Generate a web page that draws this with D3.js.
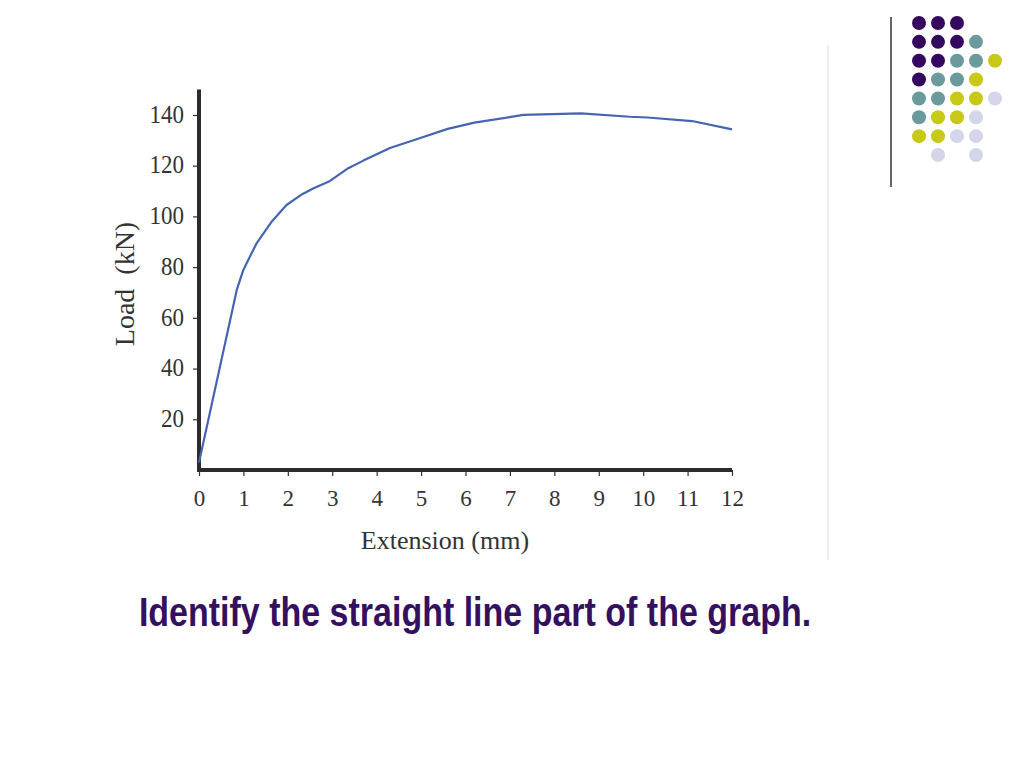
<!DOCTYPE html>
<html><head><meta charset="utf-8">
<script src="https://cdn.jsdelivr.net/npm/d3@7"></script>
<style>html,body{margin:0;padding:0;background:#fff;}svg{display:block;}</style>
</head><body>
<svg id="c" width="1024" height="768"></svg>
<script>
// Data
const extension = [0, 0.85, 1.0, 1.3, 1.64, 1.97, 2.3, 2.57, 2.95, 3.36, 3.7, 4.3, 5, 5.6, 6.2, 7.3, 8.6, 9.7, 10.1, 11.1, 12];
const load      = [3, 71, 79, 89.5, 98, 104.5, 108.5, 111, 114, 119, 122, 127, 131, 134.5, 137, 140, 140.6, 139.3, 139, 137.6, 134.3];
const xTicks = [0,1,2,3,4,5,6,7,8,9,10,11,12];
const yTicks = [20,40,60,80,100,120,140];
const xTitle = "Extension (mm)";
const yTitle = "Load  (kN)";
const caption = "Identify the straight line part of the graph.";
// decorative dot grid of the slide template (rows top to bottom, 5 columns)
const dotRows = [
  "PPP..",
  "PPPT.",
  "PPTTY",
  "PTTY.",
  "TTYYL",
  "TYYL.",
  "YYLL.",
  ".L.L."
];
const dotColors = {P:"#34085f", T:"#6a9a9c", Y:"#c8c816", L:"#d4d4ea"};

const svg = d3.select("#c");
const x = d3.scaleLinear().domain([0,12]).range([199,732]);
const y = d3.scaleLinear().domain([0,150]).range([470,89.6]);

const serif = "'Liberation Serif','DejaVu Serif',serif";
const axisColor = "#333";

// faint page border line (scan)
svg.append("line").attr("x1",828).attr("x2",828).attr("y1",45).attr("y2",560)
  .attr("stroke","#e6e6e6").attr("stroke-width",1.5);

// Y axis
const ya = svg.append("g").attr("transform",`translate(${x(0)},0)`)
  .call(d3.axisLeft(y).tickValues(yTicks).tickSize(6).tickPadding(9).tickSizeOuter(0));
ya.select(".domain").remove();
ya.selectAll(".tick line").attr("stroke",axisColor).attr("stroke-width",1.2);
ya.selectAll(".tick text").attr("font-family",serif).attr("font-size",23).attr("fill",axisColor)
  .attr("transform","scale(1,1.12)").attr("dy","0.28em");

// X axis
const xa = svg.append("g").attr("transform",`translate(0,${y(0)})`)
  .call(d3.axisBottom(x).tickValues(xTicks).tickSize(6).tickPadding(14).tickSizeOuter(0));
xa.select(".domain").remove();
xa.selectAll(".tick line").attr("stroke",axisColor).attr("stroke-width",1.2);
xa.selectAll(".tick text").attr("font-family",serif).attr("font-size",23).attr("fill",axisColor);

// thick axis lines
svg.append("line").attr("x1",x(0)).attr("x2",x(0)).attr("y1",y(150)).attr("y2",y(0)+2)
  .attr("stroke","#2b2b2b").attr("stroke-width",4);
svg.append("line").attr("x1",x(0)-2).attr("x2",x(12)).attr("y1",y(0)).attr("y2",y(0))
  .attr("stroke","#2b2b2b").attr("stroke-width",4);

// curve
const pts = extension.map((e,i)=>[e,load[i]]);
svg.append("path").datum(pts)
  .attr("fill","none").attr("stroke","#4565b0").attr("stroke-width",2.2)
  .attr("stroke-linejoin","round")
  .attr("d", d3.line().x(d=>x(d[0])).y(d=>y(d[1])));

// titles
svg.append("text").attr("x",445).attr("y",549).attr("text-anchor","middle")
  .attr("font-family",serif).attr("font-size",26).attr("fill",axisColor).text(xTitle);
svg.append("text").attr("transform","translate(134,284) rotate(-90)").attr("text-anchor","middle")
  .attr("font-family",serif).attr("font-size",28).attr("fill",axisColor)
  .attr("xml:space","preserve").style("white-space","pre").text(yTitle);

// caption
svg.append("text").attr("transform","translate(475,626) scale(1,1.18)").attr("text-anchor","middle")
  .attr("font-family","'Liberation Sans',Arial,sans-serif").attr("font-weight","bold")
  .attr("font-size",34).attr("fill","#34105f").text(caption);

// decoration: vertical line + dots
svg.append("line").attr("x1",891).attr("x2",891).attr("y1",17).attr("y2",187)
  .attr("stroke","#333").attr("stroke-width",1.5);
const colX = d3.scaleLinear().domain([0,4]).range([919,995]);
const rowY = d3.scaleLinear().domain([0,7]).range([23,155]);
const dots = [];
dotRows.forEach((r,ri)=>r.split("").forEach((c,ci)=>{ if(c!==".") dots.push({ri,ci,c}); }));
svg.append("g").selectAll("circle").data(dots).join("circle")
  .attr("cx",d=>colX(d.ci)).attr("cy",d=>rowY(d.ri)).attr("r",7)
  .attr("fill",d=>dotColors[d.c]);
</script>
</body></html>
